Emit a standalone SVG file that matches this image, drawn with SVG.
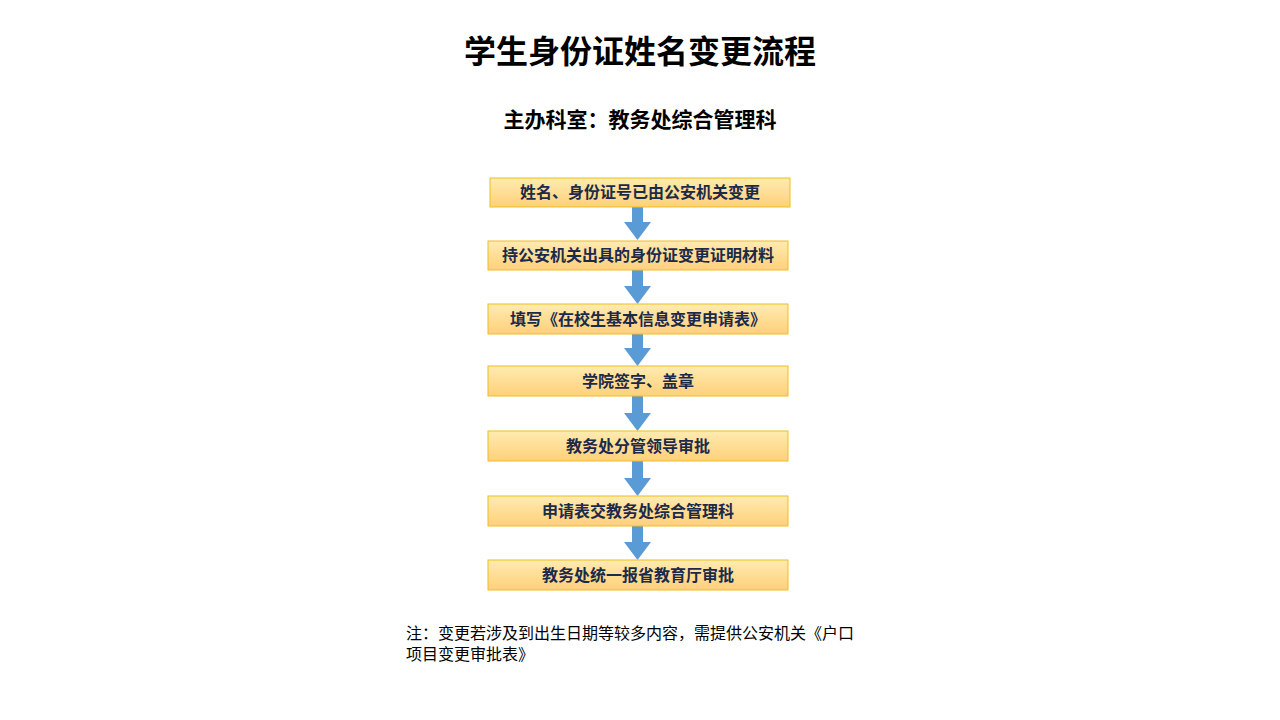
<svg xmlns="http://www.w3.org/2000/svg" width="1280" height="720" viewBox="0 0 1280 720">
<defs>
<linearGradient id="g" x1="0" y1="0" x2="0" y2="1">
<stop offset="0" stop-color="#FFEBB0"/>
<stop offset="1" stop-color="#FFD07A"/>
</linearGradient>
<style>
.box{fill:url(#g);stroke:#F0BE1E;stroke-width:1}
.t{font-family:"Liberation Sans","Noto Sans CJK SC",sans-serif;font-weight:bold;font-size:16px;fill:#1C2A4A;text-anchor:middle}
.arr{fill:#5B9BD5}
.h1{font-family:"Liberation Sans","Noto Sans CJK SC",sans-serif;font-weight:bold;font-size:32px;fill:#000;text-anchor:middle}
.h2{font-family:"Liberation Sans","Noto Sans CJK SC",sans-serif;font-weight:bold;font-size:21px;fill:#000;text-anchor:middle}
.note{font-family:"Liberation Sans","Noto Sans CJK SC",sans-serif;font-size:16px;fill:#000}
</style>
</defs>
<rect width="1280" height="720" fill="#fff"/>
<text class="h1" x="640" y="63">学生身份证姓名变更流程</text>
<text class="h2" x="640" y="127">主办科室：教务处综合管理科</text>
<g id="connectors">
<path class="arr" d="M632,207h11v15h8l-13.5,18l-13.5,-18h8z"/>
<path class="arr" d="M632,270h11v16h8l-13.5,18l-13.5,-18h8z"/>
<path class="arr" d="M632,334h11v14h8l-13.5,18l-13.5,-18h8z"/>
<path class="arr" d="M632,396h11v17h8l-13.5,18l-13.5,-18h8z"/>
<path class="arr" d="M632,461h11v17h8l-13.5,18l-13.5,-18h8z"/>
<path class="arr" d="M632,526h11v16h8l-13.5,18l-13.5,-18h8z"/>
</g>
<g id="n1"><rect class="box" x="490" y="178" width="300" height="29"/><text class="t" x="640" y="198">姓名、身份证号已由公安机关变更</text></g>
<g id="n2"><rect class="box" x="488" y="241" width="300" height="29"/><text class="t" x="638" y="261">持公安机关出具的身份证变更证明材料</text></g>
<g id="n3"><rect class="box" x="488" y="304" width="300" height="30"/><text class="t" x="638" y="325">填写《在校生基本信息变更申请表》</text></g>
<g id="n4"><rect class="box" x="488" y="366" width="300" height="30"/><text class="t" x="638" y="387">学院签字、盖章</text></g>
<g id="n5"><rect class="box" x="488" y="431" width="300" height="30"/><text class="t" x="638" y="452">教务处分管领导审批</text></g>
<g id="n6"><rect class="box" x="488" y="496" width="300" height="30"/><text class="t" x="638" y="517">申请表交教务处综合管理科</text></g>
<g id="n7"><rect class="box" x="488" y="560" width="300" height="30"/><text class="t" x="638" y="581">教务处统一报省教育厅审批</text></g>
<g id="note">
<text class="note" x="406" y="639">注：变更若涉及到出生日期等较多内容，需提供公安机关《户口</text>
<text class="note" x="406" y="660">项目变更审批表》</text>
</g>
</svg>
